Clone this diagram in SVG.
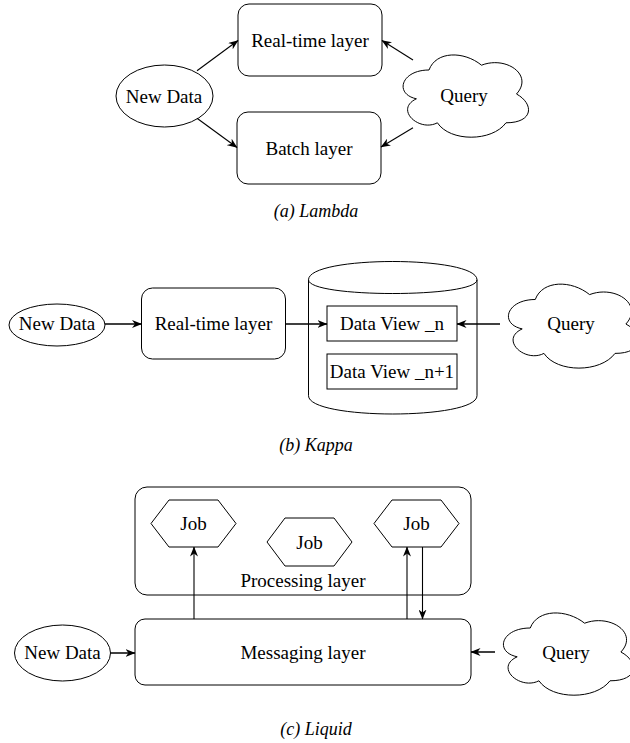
<svg xmlns="http://www.w3.org/2000/svg" width="630" height="743" viewBox="0 0 630 743">
<defs>
<style>
.n{fill:#fff;stroke:#000;stroke-width:1}
.t{font-family:"Liberation Serif","Times New Roman",serif;font-size:19px;text-anchor:middle;fill:#000}
.cap{font-family:"Liberation Serif","Times New Roman",serif;font-style:italic;font-size:18px;text-anchor:middle;fill:#000}
.e{fill:none;stroke:#000;stroke-width:1.1;marker-end:url(#ah)}
.h{stroke-width:1.5}
.l{fill:none;stroke:#000;stroke-width:1}
</style>
<marker id="ah" markerUnits="userSpaceOnUse" viewBox="0 0 10 8" markerWidth="10" markerHeight="8" refX="9.5" refY="4" orient="auto">
<path d="M0,0 L10,4 L0,8 L3,4 Z" fill="#000"/>
</marker>
</defs>
<rect x="0" y="0" width="630" height="743" fill="#fff"/>

<!-- (a) Lambda -->
<g id="a-newdata"><ellipse class="n" cx="164.5" cy="96" rx="48.5" ry="31"/><text class="t" x="164" y="102.5">New Data</text></g>
<g id="a-realtime"><rect class="n" x="238" y="4" width="144" height="72" rx="11"/><text class="t" x="310" y="46.5">Real-time layer</text></g>
<g id="a-batch"><rect class="n" x="237" y="112" width="144" height="72" rx="11"/><text class="t" x="309" y="154.5">Batch layer</text></g>
<g id="a-query"><path class="n" d="M429,70 C401,70 394,94 416.4,98.8 C394,109.4 419.2,132.4 437.4,122.8 C450,142 492,142 506,122.8 C534,122.8 534,103.6 516.5,94 C534,74.8 506,55.6 481.5,65.2 C464,50.8 436,50.8 429,70 Z"/><text class="t" x="464" y="102">Query</text></g>
<text class="cap" x="316" y="217">(a) Lambda</text>

<!-- (b) Kappa -->
<g id="b-newdata"><ellipse class="n" cx="57" cy="325" rx="48" ry="21"/><text class="t" x="57" y="330">New Data</text></g>
<g id="b-realtime"><rect class="n" x="141.5" y="288" width="144" height="71" rx="11"/><text class="t" x="213.5" y="330">Real-time layer</text></g>
<g id="b-store">
<path class="n" d="M308.5,279.8 C308.5,255.4 477,255.4 477,279.8 L477,395.7 C477,420.1 308.5,420.1 308.5,395.7 Z"/>
<path class="l" d="M308.5,279.8 C308.5,298.1 477,298.1 477,279.8"/>
</g>
<g id="b-view-n"><rect class="n" x="327" y="306" width="130" height="35"/><text class="t" x="392" y="330">Data View _n</text></g>
<g id="b-view-n1"><rect class="n" x="327" y="354" width="130" height="35"/><text class="t" x="392" y="378">Data View _n+1</text></g>
<g id="b-query"><path class="n" d="M535.25,299.5 C506.25,299.5 499,324 522.2,328.9 C499,339.7 525.1,363.2 543.95,353.4 C557,373 600.5,373 615,353.4 C644,353.4 644,333.8 625.9,324 C644,304.4 615,284.8 589.6,294.6 C571.5,279.9 542.5,279.9 535.25,299.5 Z"/><text class="t" x="571" y="330">Query</text></g>
<text class="cap" x="316" y="451">(b) Kappa</text>

<!-- (c) Liquid -->
<g id="c-processing"><rect class="n" x="135" y="487" width="336" height="108" rx="12"/><text class="t" x="303" y="587">Processing layer</text></g>
<g id="c-job1"><polygon class="n" points="151,523.5 169,500 218,500 236,523.5 218,547 169,547"/><text class="t" x="193.5" y="530">Job</text></g>
<g id="c-job2"><polygon class="n" points="267,542 285,518 334,518 352,542 334,566 285,566"/><text class="t" x="309.5" y="548.5">Job</text></g>
<g id="c-job3"><polygon class="n" points="374,523.5 392,500 441,500 459,523.5 441,547 392,547"/><text class="t" x="416.5" y="530">Job</text></g>
<g id="c-messaging"><rect class="n" x="135" y="619" width="336" height="66" rx="10"/><text class="t" x="303" y="659">Messaging layer</text></g>
<g id="c-newdata"><ellipse class="n" cx="62.5" cy="653" rx="48" ry="28"/><text class="t" x="62.5" y="659">New Data</text></g>
<g id="c-query"><path class="n" d="M530.25,628 C501.25,628 494,652 517.2,656.8 C494,667.4 520.1,690.4 538.95,680.8 C552,700 595.5,700 610,680.8 C639,680.8 639,661.6 620.9,652 C639,632.8 610,613.6 584.6,623.2 C566.5,608.8 537.5,608.8 530.25,628 Z"/><text class="t" x="566" y="659">Query</text></g>
<text class="cap" x="316" y="735">(c) Liquid</text>

<g id="connectors">
<path class="e" d="M197,70.7 L238,40.5"/>
<path class="e" d="M197,118.3 L237,147.5"/>
<path class="e" d="M413,60 L382,40.5"/>
<path class="e" d="M413,127.7 L381,147"/>
<path class="e h" d="M105,324 L141.5,324"/>
<path class="e h" d="M285.5,324 L327,324"/>
<path class="e h" d="M500,324 L457,324"/>
<path class="e" d="M194,619 L194,547"/>
<path class="e" d="M407,619 L407,547"/>
<path class="e" d="M422.5,547 L422.5,619"/>
<path class="e h" d="M110.5,653 L135,653"/>
<path class="e h" d="M495,652 L471,652"/>
</g>
</svg>
